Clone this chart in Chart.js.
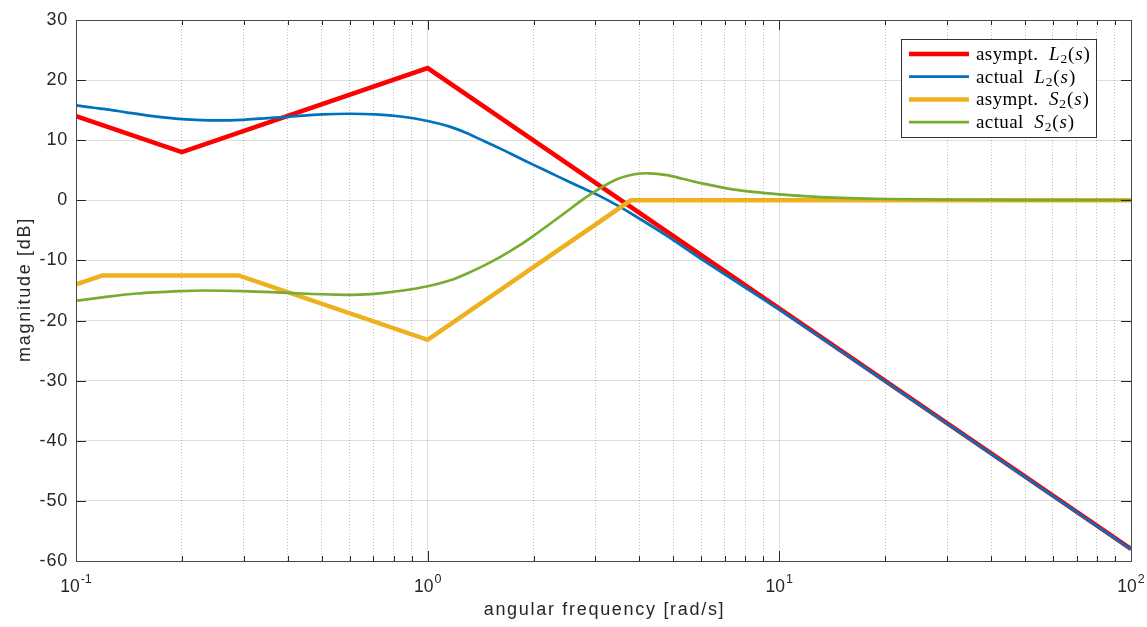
<!DOCTYPE html>
<html>
<head>
<meta charset="utf-8">
<script src="https://cdn.jsdelivr.net/npm/chart.js@4/dist/chart.umd.min.js"></script>
<style>
  body { margin: 0; background: #fff; }
  #wrap { width: 1147px; height: 627px; }
</style>
</head>
<body>
<div id="wrap"><canvas id="bode" width="1147" height="627"></canvas></div>
<script>
// asymptotic L2(s)
var asymL_w = [0.1, 0.2, 1, 100];
var asymL_db = [14, 8, 22, -58];

// actual L2(s)
var actL_w = [0.1, 0.112, 0.124, 0.14, 0.165, 0.2, 0.239, 0.298, 0.4, 0.5, 0.6, 0.71, 0.85, 1.0, 1.15, 1.29, 1.44, 1.61, 1.8, 2.0, 2.23, 2.48, 2.77, 3.09, 3.45, 3.84, 4.79, 5.94, 8, 10, 20, 50, 100];
var actL_db = [15.8, 15.4, 15.1, 14.6, 14.0, 13.5, 13.3, 13.4, 13.9, 14.3, 14.4, 14.3, 13.9, 13.2, 12.3, 11.2, 9.9, 8.6, 7.2, 5.9, 4.6, 3.3, 2.0, 0.7, -0.8, -2.4, -5.9, -9.6, -14.5, -18.2, -30.1, -46.05, -58.05];

// asymptotic S2(s)
var asymS_w = [0.1, 0.119, 0.29, 1, 3.78, 100];
var asymS_db = [-14, -12.5, -12.5, -23.2, 0, 0];

// actual S2(s)
var actS_w = [0.1, 0.12, 0.149, 0.198, 0.23, 0.3, 0.4, 0.55, 0.69, 0.85, 1.0, 1.16, 1.29, 1.44, 1.61, 1.8, 2.0, 2.23, 2.48, 2.77, 3.09, 3.45, 3.84, 4.25, 4.79, 5.3, 5.94, 7.08, 8.43, 10, 13, 20, 31, 50, 100];
var actS_db = [-16.7, -16.1, -15.5, -15.1, -15.0, -15.1, -15.4, -15.7, -15.6, -15.0, -14.3, -13.3, -12.2, -10.9, -9.4, -7.7, -5.9, -3.9, -1.9, 0.2, 2.0, 3.5, 4.3, 4.5, 4.2, 3.6, 2.9, 2.0, 1.4, 1.0, 0.55, 0.22, 0.1, 0.04, 0.01];

// axis ticks and titles
var decades = [0.1, 1, 10, 100];
var decadeExp = ['-1', '0', '1', '2'];
var yTicks = [-60, -50, -40, -30, -20, -10, 0, 10, 20, 30];
var xTitle = 'angular frequency [rad/s]';
var yTitle = 'magnitude [dB]';

var seriesNames = [
    [['asympt.', ''], [' ', 'gap'], ['L', 'i'], ['2', 'sub'], ['(', ''], ['s', 'i'], [')', '']],
    [['actual', ''], [' ', 'gap'], ['L', 'i'], ['2', 'sub'], ['(', ''], ['s', 'i'], [')', '']],
    [['asympt.', ''], [' ', 'gap'], ['S', 'i'], ['2', 'sub'], ['(', ''], ['s', 'i'], [')', '']],
    [['actual', ''], [' ', 'gap'], ['S', 'i'], ['2', 'sub'], ['(', ''], ['s', 'i'], [')', '']]
];

function pts(w, db) {
    return w.map(function (v, i) { return { x: v, y: db[i] }; });
}

var axisColor = '#262626';
var sansFont = "'Liberation Sans', Arial, Helvetica, sans-serif";
var serifFont = "'Liberation Serif', 'Times New Roman', serif";
Chart.defaults.font.family = sansFont;
Chart.defaults.color = axisColor;

var matlabAxes = {
    id: 'matlabAxes',
    beforeDraw: function (chart) {
        // wider spacing for the y tick labels drawn by the scale
        chart.ctx.letterSpacing = '0.8px';
    },
    afterDraw: function (chart) {
        var ctx = chart.ctx;
        var a = chart.chartArea;
        var xs = chart.scales.x, ys = chart.scales.y;
        ctx.save();
        ctx.letterSpacing = '0px';
        ctx.strokeStyle = axisColor;
        ctx.lineWidth = 1;
        // ticks inward on all sides
        ctx.beginPath();
        xs.ticks.forEach(function (t) {
            var px = Math.round(xs.getPixelForValue(t.value)) + 0.5;
            var len = t.major ? 10 : 5;
            ctx.moveTo(px, a.bottom); ctx.lineTo(px, a.bottom - len);
            ctx.moveTo(px, a.top); ctx.lineTo(px, a.top + len);
        });
        yTicks.forEach(function (v) {
            var py = Math.round(ys.getPixelForValue(v)) + 0.5;
            ctx.moveTo(a.left, py); ctx.lineTo(a.left + 10, py);
            ctx.moveTo(a.right, py); ctx.lineTo(a.right - 10, py);
        });
        ctx.stroke();
        // box
        ctx.strokeStyle = '#4a4a4a';
        ctx.strokeRect(Math.round(a.left) + 0.5, Math.round(a.top) + 0.5,
            Math.round(a.right - a.left), Math.round(a.bottom - a.top));

        // x tick labels 10^n
        ctx.fillStyle = axisColor;
        ctx.textBaseline = 'alphabetic';
        ctx.textAlign = 'left';
        decades.forEach(function (d, i) {
            var px = xs.getPixelForValue(d);
            ctx.font = '17.5px ' + sansFont;
            var w1 = ctx.measureText('10').width;
            ctx.font = '12.5px ' + sansFont;
            var w2 = ctx.measureText(decadeExp[i]).width;
            var x0 = px - (w1 + w2 + 1) / 2;
            ctx.font = '17.5px ' + sansFont;
            ctx.fillText('10', x0, a.bottom + 31);
            ctx.font = '12.5px ' + sansFont;
            ctx.fillText(decadeExp[i], x0 + w1 + 1, a.bottom + 22);
        });

        // axis titles
        ctx.font = '18px ' + sansFont;
        ctx.letterSpacing = '1.7px';
        ctx.textAlign = 'center';
        ctx.fillText(xTitle, (a.left + a.right) / 2 + 1, 615);
        ctx.save();
        ctx.translate(30, (a.top + a.bottom) / 2);
        ctx.rotate(-Math.PI / 2);
        ctx.fillText(yTitle, 1, 0);
        ctx.restore();
        ctx.letterSpacing = '0px';
        ctx.textAlign = 'left';

        // legend
        var lx = 901, ly = 39, lw = 195, lh = 98;
        ctx.fillStyle = '#ffffff';
        ctx.fillRect(lx, ly, lw, lh);
        ctx.strokeStyle = '#333333';
        ctx.strokeRect(lx + 0.5, ly + 0.5, lw, lh);
        chart.data.datasets.forEach(function (ds, i) {
            var ry = ly + 15 + i * 22.7;
            ctx.strokeStyle = ds.borderColor;
            ctx.lineWidth = ds.borderWidth;
            ctx.beginPath();
            ctx.moveTo(lx + 8, ry); ctx.lineTo(lx + 68, ry);
            ctx.stroke();
            var tx = lx + 75;
            ctx.fillStyle = '#000000';
            ctx.letterSpacing = '0.4px';
            seriesNames[i].forEach(function (part) {
                var txt = part[0], st = part[1];
                var by = ry + 6;
                if (st === 'gap') { tx += 10; return; }
                if (st === 'i') ctx.font = 'italic 19px ' + serifFont;
                else if (st === 'sub') { ctx.font = '13.5px ' + serifFont; by = ry + 9; }
                else ctx.font = '19px ' + serifFont;
                ctx.fillText(txt, tx, by);
                tx += ctx.measureText(txt).width + 0.5;
            });
        });
        ctx.restore();
    }
};

var ctx = document.getElementById('bode').getContext('2d');
var chart = new Chart(ctx, {
    type: 'line',
    data: {
        datasets: [{
            label: 'asympt. L2(s)',
            data: pts(asymL_w, asymL_db),
            borderColor: '#ff0000',
            borderWidth: 4.5,
            order: 3
        }, {
            label: 'actual L2(s)',
            data: pts(actL_w, actL_db),
            borderColor: '#0072bd',
            borderWidth: 2.7,
            tension: 0.3,
            order: 2
        }, {
            label: 'asympt. S2(s)',
            data: pts(asymS_w, asymS_db),
            borderColor: '#edb120',
            borderWidth: 4.5,
            order: 1
        }, {
            label: 'actual S2(s)',
            data: pts(actS_w, actS_db),
            borderColor: '#77ac30',
            borderWidth: 2.7,
            tension: 0.3,
            order: 0
        }]
    },
    options: {
        responsive: false,
        animation: false,
        devicePixelRatio: 1,
        elements: { point: { radius: 0 }, line: { fill: false, borderJoinStyle: 'miter' } },
        layout: { padding: { left: 0, top: 20, right: 16, bottom: 0 } },
        plugins: { legend: { display: false }, tooltip: { enabled: false } },
        scales: {
            x: {
                type: 'logarithmic',
                min: 0.1,
                max: 100,
                afterBuildTicks: function (s) {
                    var t = [];
                    decades.forEach(function (d, i) {
                        t.push({ value: d, major: true });
                        if (i < decades.length - 1) {
                            for (var k = 2; k <= 9; k++) t.push({ value: d * k, major: false });
                        }
                    });
                    s.ticks = t;
                },
                afterFit: function (s) { s.height = 66; },
                ticks: { display: false },
                grid: {
                    drawTicks: false,
                    lineWidth: 1,
                    color: function (c) {
                        return c.tick && c.tick.major ? 'rgba(38,38,38,0.15)' : 'rgba(38,38,38,0.28)';
                    }
                },
                border: {
                    display: false,
                    dash: function (c) { return c.tick && c.tick.major ? [] : [1, 2]; }
                },
                title: { display: false }
            },
            y: {
                type: 'linear',
                min: -60,
                max: 30,
                afterBuildTicks: function (s) {
                    s.ticks = yTicks.map(function (v) { return { value: v }; });
                },
                afterFit: function (s) { s.width = 76; },
                ticks: { font: { size: 18 }, color: axisColor, padding: 8 },
                grid: { drawTicks: false, lineWidth: 1, color: 'rgba(38,38,38,0.15)' },
                border: { display: false },
                title: { display: false }
            }
        }
    },
    plugins: [matlabAxes]
});
</script>
</body>
</html>
